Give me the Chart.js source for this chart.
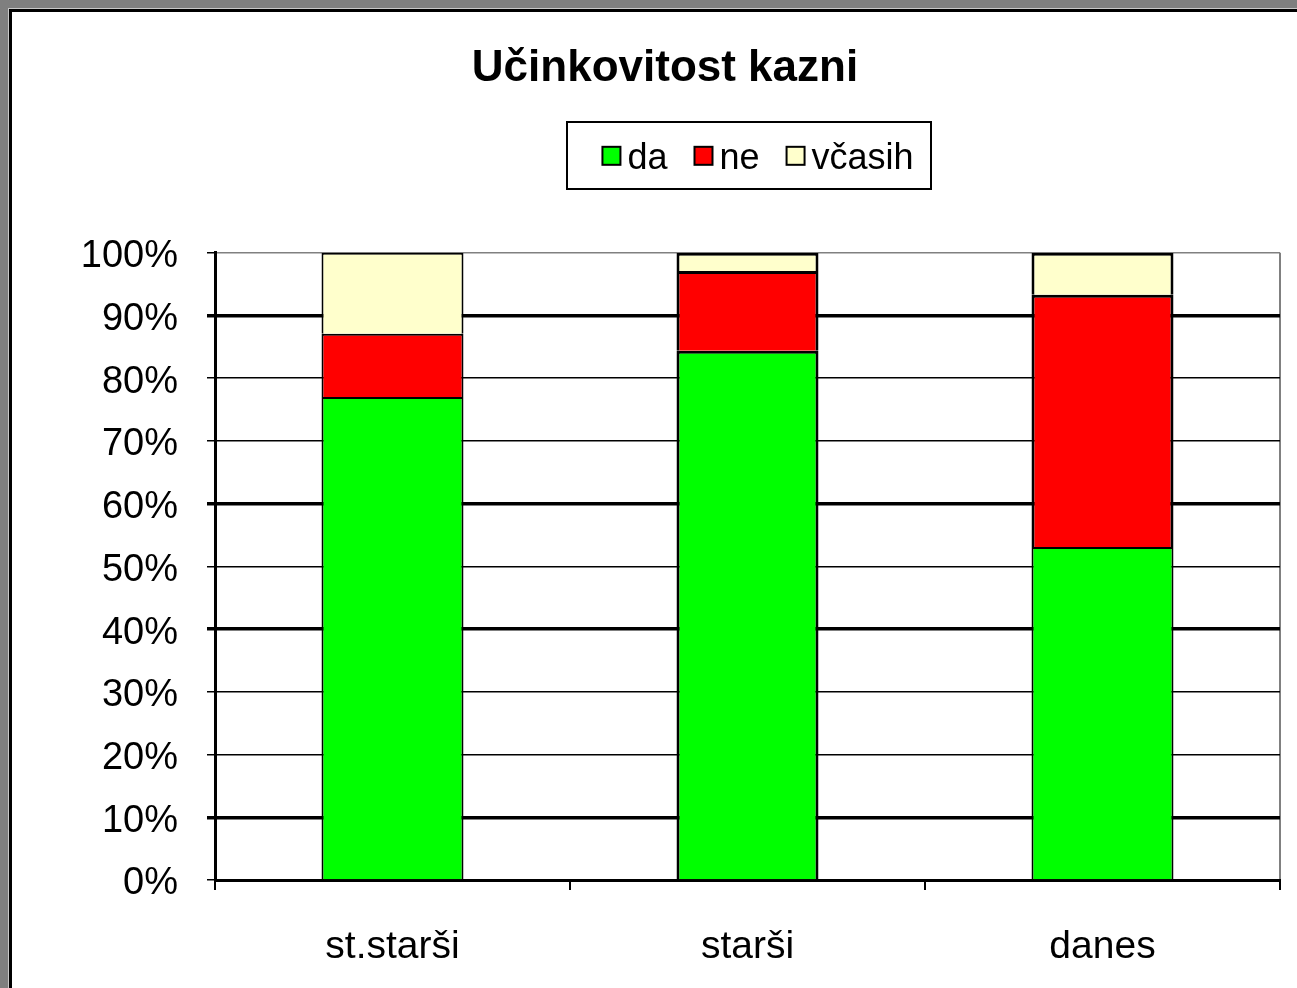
<!DOCTYPE html>
<html>
<head>
<meta charset="utf-8">
<script src="https://cdn.jsdelivr.net/npm/chart.js@4.4.1/dist/chart.umd.min.js"></script>
<style>
  html, body { margin: 0; padding: 0; width: 1297px; height: 988px; overflow: hidden; background: #7f7f7f; }
  #panel { position: absolute; left: 9px; top: 9px; width: 1320px; height: 1010px; background: #fff;
           border-top: 3px solid #000; border-left: 3px solid #000; box-shadow: -1px -1px 0 #c8c8c8; }
  #wrap { position: absolute; left: 0; top: 0; width: 1297px; height: 988px; }
</style>
</head>
<body>
<div id="panel"></div>
<div id="wrap"><canvas id="c" width="1297" height="988"></canvas></div>
<script>
const categories = ['st.starši', 'starši', 'danes'];
const seriesNames = ['da', 'ne', 'včasih'];
const daValues = [77, 84.4, 53.1];
const neValues = [10.1, 12.7, 40.2];
const vcasihValues = [12.9, 2.9, 6.7];
const yTicks = [0, 10, 20, 30, 40, 50, 60, 70, 80, 90, 100];
const chartTitle = 'Učinkovitost kazni';

const FONT = "'Liberation Sans', Arial, sans-serif";
const seriesColors = ['#00ff00', '#ff0000', '#ffffcc'];

// legend swatches: square drawn in the upper-left part of a wider image so the text gap is small
function swatch(color) {
  const cv = document.createElement('canvas');
  cv.width = 48; cv.height = 30;
  const g = cv.getContext('2d');
  g.fillStyle = '#000';
  g.fillRect(20, 2, 20, 20);
  g.fillStyle = color;
  g.fillRect(22, 4, 16, 16);
  return cv;
}
const swatches = seriesColors.map(swatch);

const legendFrame = {
  id: 'legendFrame',
  afterInit(chart) {
    const lg = chart.legend;
    if (lg && !lg._patched) {
      const f = lg.fit;
      lg.fit = function () { f.call(this); this.height += 66; };
      lg._patched = true;
    }
  },
  afterLayout(chart) {
    const lg = chart.legend;
    if (lg) { lg.left += 10; lg.right += 10; }
  },
  afterDraw(chart) {
    const lg = chart.legend;
    if (!lg || !lg.legendHitBoxes || !lg.legendHitBoxes.length) return;
    const hb = lg.legendHitBoxes;
    const first = hb[0], last = hb[hb.length - 1];
    const x1 = first.left - 34, x2 = last.left + last.width + 18;
    const cy = first.top + first.height / 2;
    const ctx = chart.ctx;
    ctx.save();
    ctx.strokeStyle = '#000';
    ctx.lineWidth = 2;
    ctx.strokeRect(Math.round(x1), Math.round(cy - 37), Math.round(x2 - x1), 67);
    ctx.restore();
  }
};

const thick = new Set([10, 40, 60, 90]);

new Chart(document.getElementById('c'), {
  type: 'bar',
  data: {
    labels: categories,
    datasets: [
      { label: seriesNames[0], data: daValues, backgroundColor: seriesColors[0], borderColor: '#000', borderWidth: [2, 3, 2] },
      { label: seriesNames[1], data: neValues, backgroundColor: seriesColors[1], borderColor: '#000', borderWidth: [2, 3, 3] },
      { label: seriesNames[2], data: vcasihValues, backgroundColor: seriesColors[2], borderColor: '#000', borderWidth: [2, 3, 3] }
    ]
  },
  options: {
    responsive: false,
    animation: false,
    layout: { padding: { left: 50, right: 17, top: 0, bottom: 0 } },
    datasets: { bar: { categoryPercentage: 1, barPercentage: 0.4 } },
    plugins: {
      title: {
        display: true, text: chartTitle, color: '#000',
        font: { family: FONT, size: 44, weight: 'bold' },
        padding: { top: 42, bottom: 20 }
      },
      legend: {
        display: true, position: 'top', fullSize: false,
        labels: {
          color: '#000', font: { family: FONT, size: 36 },
          usePointStyle: true, pointStyleWidth: 8, boxHeight: 20, padding: 26,
          generateLabels(chart) {
            const items = Chart.defaults.plugins.legend.labels.generateLabels(chart);
            items.forEach(it => { it.pointStyle = swatches[it.datasetIndex]; });
            return items;
          }
        }
      },
      tooltip: { enabled: false }
    },
    scales: {
      x: {
        stacked: true,
        afterFit(s) { s.height = 108; },
        border: { display: true, color: '#000', width: 3 },
        grid: {
          offset: true, drawOnChartArea: true, drawTicks: true, tickLength: 10,
          color: c => c.type === 'tick' ? 'rgba(0,0,0,0)' : '#808080',
          tickColor: '#000', lineWidth: 2, tickWidth: 2
        },
        ticks: { color: '#000', font: { family: FONT, size: 39 }, padding: 34, maxRotation: 0 }
      },
      y: {
        stacked: true, min: 0, max: 100,
        afterFit(s) { s.width = 165; },
        afterBuildTicks(s) { s.ticks = yTicks.map(v => ({ value: v })); },
        border: { display: true, color: '#000', width: 3 },
        grid: {
          drawTicks: true, tickLength: 8,
          color: c => (c.tick && c.tick.value === 100) ? '#808080' : '#000',
          tickColor: '#000',
          lineWidth: c => (c.tick && thick.has(c.tick.value)) ? 3.5 : 1.5
        },
        ticks: { color: '#000', font: { family: FONT, size: 38 }, padding: 29, labelOffset: 4, callback: v => v + '%' }
      }
    }
  },
  plugins: [legendFrame]
});
</script>
</body>
</html>
